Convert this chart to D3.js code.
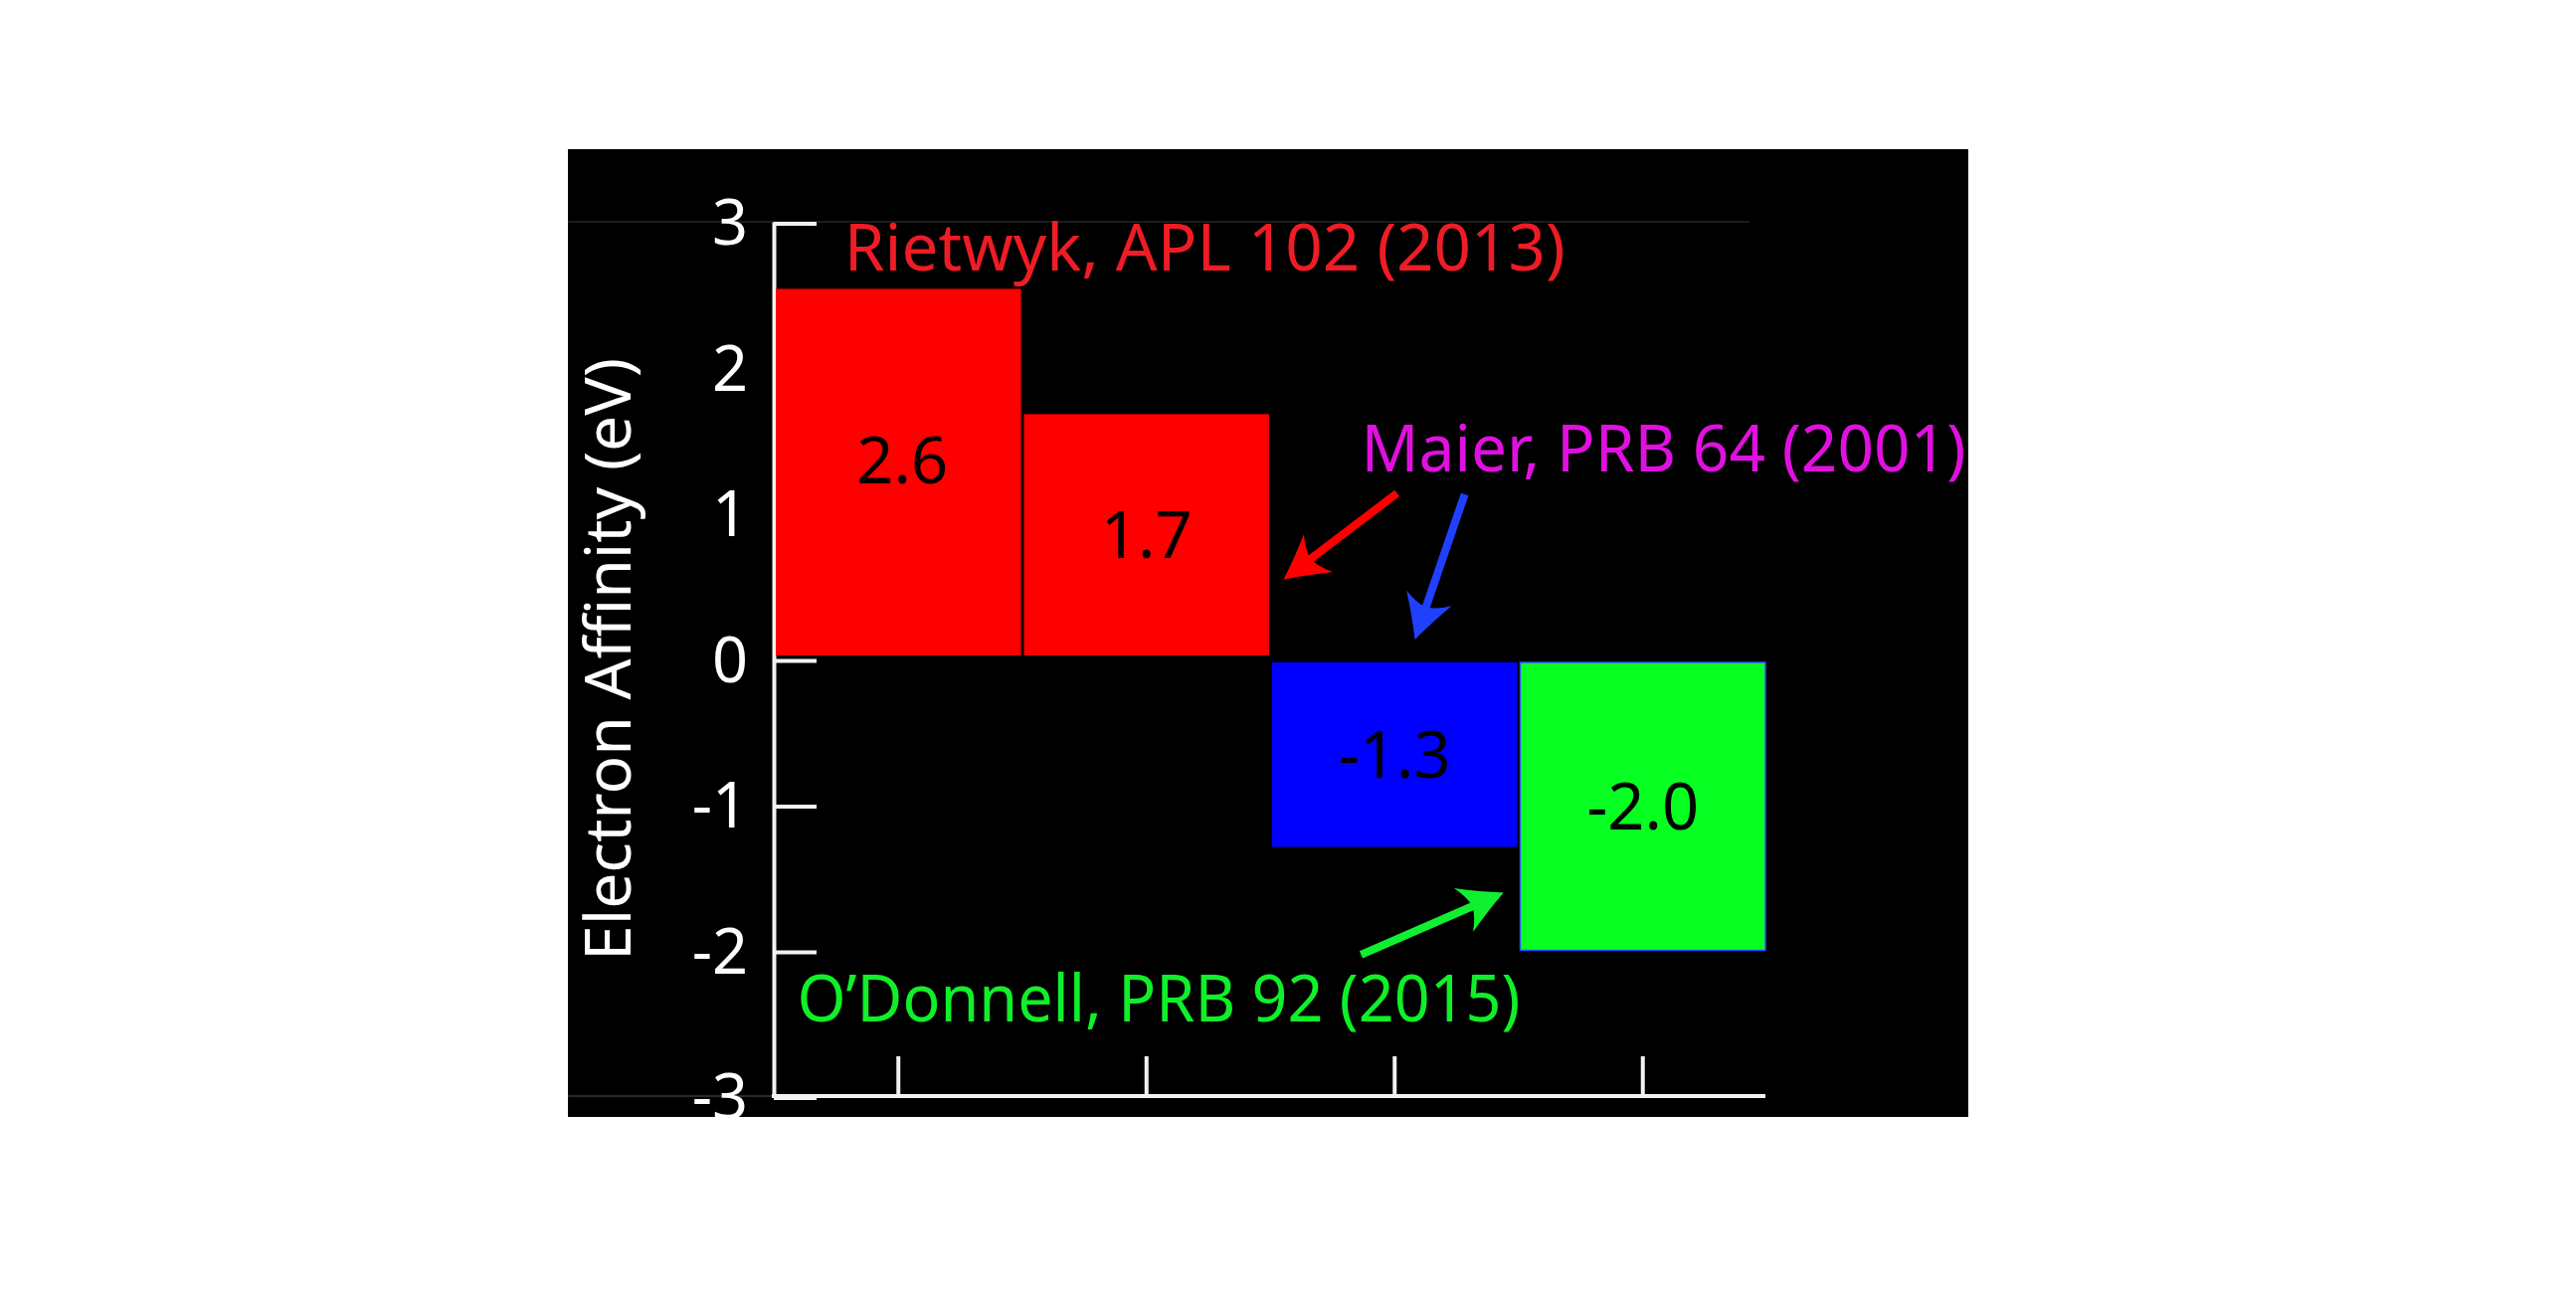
<!DOCTYPE html>
<html><head><meta charset="utf-8">
<script src="https://cdn.jsdelivr.net/npm/d3@7"></script>
<style>html,body{margin:0;padding:0;background:#fff;overflow:hidden}</style>
</head><body>
<svg id="chart" width="2590" height="1299"></svg>
<script>
// ---- data ----
const categories = ["Rietwyk A", "Rietwyk B", "Maier", "O'Donnell"];
const values = [2.54, 1.68, -1.29, -2.0];
const valueLabels = ["2.6", "1.7", "-1.3", "-2.0"];
const barColors = ["#ff0000", "#ff0000", "#0000ff", "#08ff22"];
const yTickValues = [-3, -2, -1, 0, 1, 2, 3];
const yLabel = "Electron Affinity (eV)";
const noteTexts = ["Rietwyk, APL 102 (2013)", "Maier, PRB 64 (2001)", "O\u2019Donnell, PRB 92 (2015)"];
const noteColors = ["#ee1c25", "#e010e0", "#10f028"];
// note anchors in (category units, eV)
const noteX = [0.28, 2.365, 0.09];
const noteY = [2.665, 1.29, -2.49];
const arrowFrom = [[2.51, 1.137], [2.783, 1.13], [2.365, -2.03]];
const arrowTo = [[2.052, 0.545], [2.582, 0.133], [2.94, -1.604]];
const arrowColors = ["#ff0000", "#2040ff", "#10f030"];

// ---- layout ----
const svg = d3.select("#chart");
const W = 2590, H = 1299;
const frame = {x0: 571, y0: 150, x1: 1979, y1: 1123};
const plot = {left: 778, right: 1775, top: 223, bottom: 1102};
const FONT = "'Noto Sans', 'Open Sans', sans-serif";

svg.append("rect").attr("x", 0).attr("y", 0).attr("width", W).attr("height", H).attr("fill", "#fff");
svg.append("rect").attr("x", frame.x0).attr("y", frame.y0)
  .attr("width", frame.x1 - frame.x0).attr("height", frame.y1 - frame.y0).attr("fill", "#000");

const y = d3.scaleLinear().domain([-3, 3]).range([plot.bottom, plot.top]);
const xb = d3.scaleBand().domain(categories).range([plot.left + 1, plot.right + 1])
  .paddingInner(0.012).paddingOuter(0.004);
const xu = d3.scaleLinear().domain([0, 4]).range([plot.left + 1, plot.right + 1]);

// faint frame lines
svg.append("line").attr("x1", frame.x0).attr("x2", 1759).attr("y1", y(3)).attr("y2", y(3))
  .attr("stroke", "#1c1c1c").attr("stroke-width", 2);
svg.append("line").attr("x1", frame.x0).attr("x2", plot.left).attr("y1", y(-3)).attr("y2", y(-3))
  .attr("stroke", "#2a2a2a").attr("stroke-width", 2);

// y axis
const yAxis = d3.axisLeft(y).tickValues(yTickValues).tickSizeInner(-43).tickSizeOuter(0)
  .tickPadding(26).tickFormat(d => String(d));
const gy = svg.append("g").attr("transform", `translate(${plot.left},0)`).call(yAxis);
gy.select(".domain").attr("stroke", "#f2f2f2").attr("stroke-width", 4);
gy.selectAll(".tick line").attr("stroke", "#f2f2f2").attr("stroke-width", 4)
  .attr("transform", "translate(0,1.5)");
gy.selectAll(".tick text").attr("fill", "#fff").attr("font-family", FONT)
  .attr("font-size", 63).attr("dy", "0.36em");

// x axis
const xAxis = d3.axisBottom(xb).tickSizeInner(-40).tickSizeOuter(0).tickFormat("");
const gx = svg.append("g").attr("transform", `translate(0,${plot.bottom})`).call(xAxis);
gx.select(".domain").attr("stroke", "#f2f2f2").attr("stroke-width", 4)
  .attr("d", `M${plot.left - 2},0H${plot.right}`);
gx.selectAll(".tick line").attr("stroke", "#f2f2f2").attr("stroke-width", 4);

// bars
const gap = 3.5;
svg.append("g").selectAll("rect").data(values).join("rect")
  .attr("x", (d, i) => xb(categories[i]))
  .attr("width", xb.bandwidth())
  .attr("y", d => d >= 0 ? y(d) : y(0) + gap)
  .attr("height", d => d >= 0 ? y(0) - gap - y(d) : y(d) - y(0) - gap)
  .attr("fill", (d, i) => barColors[i])
  .attr("stroke", (d, i) => i === 3 ? "#2a50ff" : "none")
  .attr("stroke-width", 1.5);

// bar value labels
svg.append("g").selectAll("text").data(values).join("text")
  .attr("x", (d, i) => xb(categories[i]) + xb.bandwidth() / 2 + (i === 0 ? 4 : 0))
  .attr("y", (d, i) => (d >= 0 ? (y(d) + y(0) - gap) / 2 - (i === 0 ? 12 : 0) : (y(0) + gap + y(d)) / 2))
  .attr("dy", "0.36em")
  .attr("text-anchor", "middle")
  .attr("font-family", FONT).attr("font-size", 65).attr("fill", "#000")
  .text((d, i) => valueLabels[i]);

// y label
svg.append("text")
  .attr("transform", `translate(634,663) rotate(-90)`)
  .attr("text-anchor", "middle")
  .attr("font-family", FONT).attr("font-size", 64).attr("fill", "#fff")
  .attr("textLength", 606).attr("lengthAdjust", "spacingAndGlyphs")
  .text(yLabel);

// annotation texts
const noteLengths = [725, 608, 727];
svg.append("g").selectAll("text").data(noteTexts).join("text")
  .attr("x", (d, i) => xu(noteX[i]))
  .attr("y", (d, i) => y(noteY[i]))
  .attr("font-family", FONT).attr("font-size", 65)
  .attr("fill", (d, i) => noteColors[i])
  .attr("textLength", (d, i) => noteLengths[i]).attr("lengthAdjust", "spacingAndGlyphs")
  .text(d => d);

// arrows
const headPath = "M0,0 Q-21,-10 -44,-24 Q-36,-12 -34,0 Q-36,12 -44,24 Q-21,10 0,0 Z";
arrowFrom.forEach((f, i) => {
  const x1 = xu(f[0]), y1 = y(f[1]);
  const x2 = xu(arrowTo[i][0]), y2 = y(arrowTo[i][1]);
  const ang = Math.atan2(y2 - y1, x2 - x1);
  const len = Math.hypot(x2 - x1, y2 - y1);
  const g = svg.append("g").attr("transform", `translate(${x1},${y1}) rotate(${ang * 180 / Math.PI})`);
  g.append("line").attr("x1", 0).attr("y1", 0).attr("x2", len - 30).attr("y2", 0)
    .attr("stroke", arrowColors[i]).attr("stroke-width", 8);
  g.append("path").attr("d", headPath).attr("transform", `translate(${len},0)`)
    .attr("fill", arrowColors[i]);
});
</script>
</body></html>
